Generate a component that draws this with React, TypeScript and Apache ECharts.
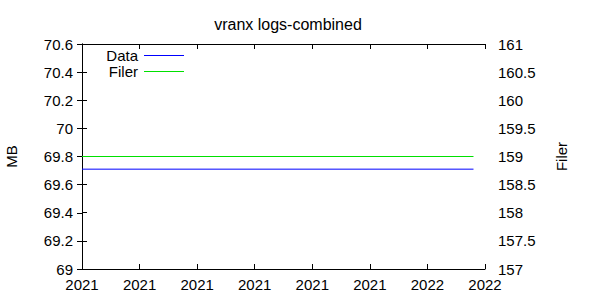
import React, { useEffect, useRef } from "react";
import * as echarts from "echarts";

const xTickLabels = ["2021", "2021", "2021", "2021", "2021", "2021", "2022", "2022"];
const xPositions = [0, 6.8];
const dataValues = [69.71, 69.71];
const filerValues = [159, 159];
const seriesNames = ["Data", "Filer"];
const seriesColors = ["#0000ff", "#00e000"];

const FONT = "Liberation Sans";

export default function App() {
  const ref = useRef<HTMLDivElement>(null);
  useEffect(() => {
    if (!ref.current) return;
    const chart = echarts.init(ref.current, null, { renderer: "svg" });
    const tickCommon = { show: true, inside: true, length: 5, lineStyle: { color: "#000", width: 1 } };
    chart.setOption({
      animation: false,
      backgroundColor: "#fff",
      textStyle: { fontFamily: FONT },
      title: {
        text: "vranx logs-combined",
        left: 283,
        top: 11,
        textAlign: "center",
        textStyle: { fontFamily: FONT, fontSize: 16, fontWeight: "normal", color: "#000" },
      },
      legend: {
        orient: "vertical",
        align: "right",
        left: 85,
        top: 43,
        padding: 5,
        itemWidth: 40,
        itemHeight: 15,
        itemGap: 1,
        data: seriesNames,
        itemStyle: { color: "rgba(0,0,0,0)", borderWidth: 0, opacity: 0 },
        lineStyle: { width: 1 },
        textStyle: {
          fontFamily: FONT,
          fontSize: 15,
          color: "#000",
          width: 48,
          lineHeight: 15,
          padding: [0, 1, 0, 0],
        },
      },
      grid: { left: 82, right: 115, top: 44, bottom: 31, outerBoundsMode: "none", containLabel: false },
      xAxis: [
        {
          type: "value",
          min: 0,
          max: 7,
          interval: 1,
          position: "bottom",
          axisLine: { show: true, lineStyle: { color: "#000", width: 1 } },
          axisTick: tickCommon,
          splitLine: { show: false },
          axisLabel: {
            color: "#000",
            fontFamily: FONT,
            fontSize: 15,
            margin: 8,
            formatter: (v: number) => xTickLabels[Math.round(v)] ?? "",
          },
        },
        {
          type: "value",
          min: 0,
          max: 7,
          interval: 1,
          position: "top",
          axisLine: { show: true, lineStyle: { color: "#000", width: 1 } },
          axisTick: tickCommon,
          splitLine: { show: false },
          axisLabel: { show: false },
        },
      ],
      yAxis: [
        {
          type: "value",
          min: 69,
          max: 70.6,
          interval: 0.2,
          position: "left",
          name: "MB",
          nameLocation: "middle",
          nameGap: 63,
          nameRotate: 90,
          nameTextStyle: { color: "#000", fontFamily: FONT, fontSize: 15 },
          axisLine: { show: true, lineStyle: { color: "#000", width: 1 } },
          axisTick: tickCommon,
          splitLine: { show: false },
          axisLabel: {
            color: "#000",
            fontFamily: FONT,
            fontSize: 15,
            margin: 9,
            formatter: (v: number) => String(parseFloat(v.toFixed(1))),
          },
        },
        {
          type: "value",
          min: 157,
          max: 161,
          interval: 0.5,
          position: "right",
          name: "Filer",
          nameLocation: "middle",
          nameGap: 69,
          nameRotate: 90,
          nameTextStyle: { color: "#000", fontFamily: FONT, fontSize: 15 },
          axisLine: { show: true, lineStyle: { color: "#000", width: 1 } },
          axisTick: tickCommon,
          splitLine: { show: false },
          axisLabel: {
            color: "#000",
            fontFamily: FONT,
            fontSize: 15,
            margin: 13,
            formatter: (v: number) => String(parseFloat(v.toFixed(1))),
          },
        },
      ],
      series: [
        {
          name: seriesNames[0],
          type: "line",
          xAxisIndex: 0,
          yAxisIndex: 0,
          data: xPositions.map((x, i) => [x, dataValues[i]]),
          showSymbol: false,
          symbol: "none",
          color: seriesColors[0],
          itemStyle: { color: seriesColors[0] },
          lineStyle: { color: seriesColors[0], width: 1 },
        },
        {
          name: seriesNames[1],
          type: "line",
          xAxisIndex: 0,
          yAxisIndex: 1,
          data: xPositions.map((x, i) => [x, filerValues[i]]),
          showSymbol: false,
          symbol: "none",
          color: seriesColors[1],
          itemStyle: { color: seriesColors[1] },
          lineStyle: { color: seriesColors[1], width: 1 },
        },
      ],
    });
    return () => chart.dispose();
  }, []);
  return (
    <div
      ref={ref}
      style={{ position: "fixed", left: 0, top: 0, width: 600, height: 300, background: "#fff" }}
    />
  );
}
